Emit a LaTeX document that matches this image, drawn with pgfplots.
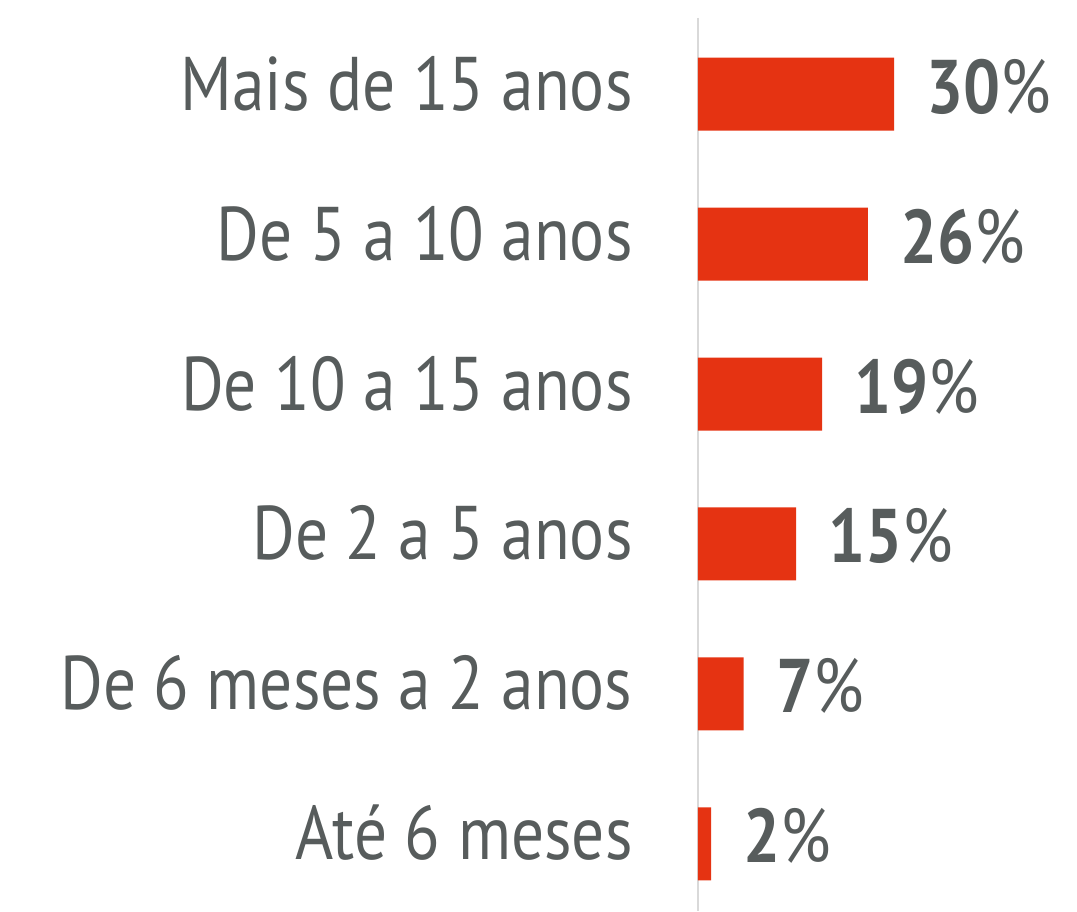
\documentclass[border=0pt]{standalone}
\usepackage{fontspec}
\setmainfont{PT Sans}[FakeStretch=0.86]
\usepackage{pgfplots}
\pgfplotsset{compat=1.18}
\definecolor{barred}{HTML}{E53312}
\definecolor{txtgray}{HTML}{575C5C}
\definecolor{axgray}{HTML}{D9D9D9}
\begin{document}
\begin{tikzpicture}
\path[use as bounding box] (-349pt,0pt) rectangle (189.5pt,455.5pt);
\begin{axis}[
  at={(0pt,0pt)}, anchor=south west,
  scale only axis,
  width=189.5pt, height=446.5pt,
  xbar, bar width=36.5pt,
  xmin=0, xmax=58,
  ymin=-0.507, ymax=5.447,
  y dir=reverse,
  axis x line=none,
  axis y line*=left,
  y axis line style={draw=axgray, line width=1pt, -},
  ytick={0,1,2,3,4,5},
  yticklabels={Mais de 15 anos,De 5 a 10 anos,De 10 a 15 anos,De 2 a 5 anos,De 6 meses a 2 anos,Até 6 meses},
  ytick style={draw=none},
  major tick length=0pt,
  /pgf/number format/assume math mode=true,
  yticklabel style={font=\fontsize{38}{40}\selectfont, text=txtgray, anchor=base east, inner sep=0pt, xshift=-32.5pt, yshift=-8pt},
  point meta=x,
  nodes near coords={\textbf{\pgfmathprintnumber[assume math mode=true]{\pgfplotspointmeta}}\%},
  nodes near coords style={font=\fontsize{38}{40}\selectfont, text=txtgray, anchor=base west, inner sep=0pt, xshift=16pt, yshift=-9.5pt},
  clip=false,
]
\addplot[fill=barred, draw=none] coordinates {(30,0) (26,1) (19,2) (15,3) (7,4) (2,5)};
\end{axis}
\end{tikzpicture}
\end{document}
